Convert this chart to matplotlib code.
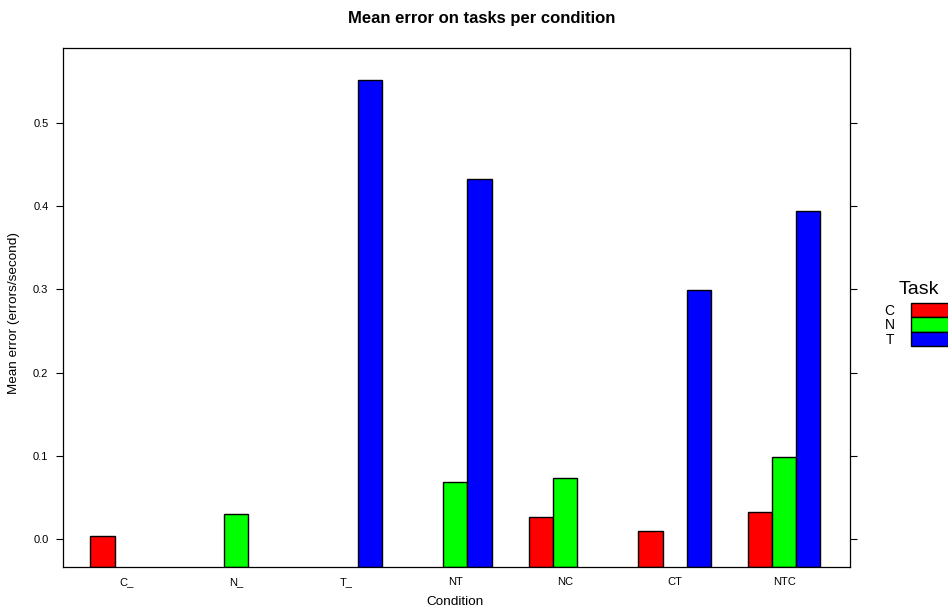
import matplotlib.pyplot as plt
from matplotlib.patches import Rectangle
import numpy as np

plt.rcParams['font.family'] = ['Liberation Sans', 'DejaVu Sans']

######### DATA #########
conditions = ["C_", "N_", "T_", "NT", "NC", "CT", "NTC"]
tasks = ["C", "N", "T"]
task_colors = ["#ff0000", "#00ff00", "#0000ff"]
# mean error per task (errors/second); nan = task not present in condition
err_C = [0.003, np.nan, np.nan, np.nan, 0.026, 0.010, 0.032]
err_N = [np.nan, 0.030, np.nan, 0.069, 0.073, np.nan, 0.099]
err_T = [np.nan, np.nan, 0.552, 0.432, np.nan, 0.299, 0.394]
y_ticks = [0.0, 0.1, 0.2, 0.3, 0.4, 0.5]

######### PLOT #########
W, H = 948, 608
fig = plt.figure(figsize=(W / 100, H / 100), dpi=100)
ax = fig.add_axes([63/W, 1 - 567/H, 787/W, 519/H])

y_lo, y_hi = -0.0337, 0.590
x = np.arange(len(conditions))
width = 0.22
# bars rise from the bottom of the panel, like lattice's barchart
for i, vals in enumerate([err_C, err_N, err_T]):
    vals = np.array(vals, dtype=float)
    keep = ~np.isnan(vals)
    ax.bar(x[keep] + (i - 1) * width, vals[keep] - y_lo, bottom=y_lo, width=width,
           color=task_colors[i], edgecolor="black", linewidth=1.0)

ax.set_xlim(-0.58, 6.6)
ax.set_ylim(y_lo, y_hi)
ax.set_xticks(x)
ax.set_xticklabels(conditions, fontsize=8)
ax.set_yticks(y_ticks)
ax.set_yticklabels(["%.1f" % t for t in y_ticks], fontsize=8)
ax.tick_params(axis="x", length=0, pad=7)
ax.tick_params(axis="y", length=5, width=0.8, right=True, direction="out", pad=5.5)
for s in ax.spines.values():
    s.set_linewidth(0.9)

fig.text(455/W, 1 - 602/H, "Condition", ha="center", va="center", fontsize=9.7)
fig.text(14.5/W, 1 - 313/H, "Mean error (errors/second)", ha="center", va="center",
         rotation=90, fontsize=9.7)
fig.text(482/W, 1 - 18/H, "Mean error on tasks per condition",
         ha="center", va="center", fontsize=12, fontweight="bold")

# key on the right, drawn in figure pixels
fig.text(918.5/W, 1 - 289/H, "Task", ha="center", va="center", fontsize=14)
for i, (t, c) in enumerate(zip(tasks, task_colors)):
    y0 = 303 + i * 14.3
    fig.text(889.5/W, 1 - (y0 + 8)/H, t, ha="center", va="center", fontsize=10)
    fig.patches.append(Rectangle((911/W, 1 - (y0 + 14.3)/H), 45/W, 14.3/H,
                                 transform=fig.transFigure, facecolor=c,
                                 edgecolor="black", linewidth=1.0))

fig.savefig("out.png", dpi=100)
